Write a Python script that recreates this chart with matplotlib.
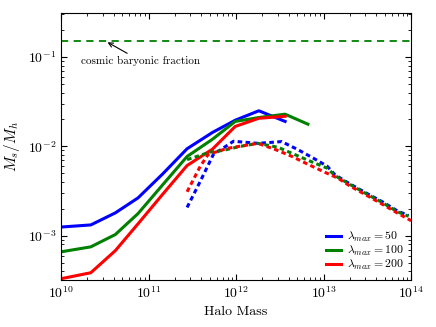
import numpy as np
import matplotlib
matplotlib.use("Agg")
import matplotlib.pyplot as plt

plt.rcParams['font.family'] = ['cmr10', 'DejaVu Serif']
plt.rcParams['mathtext.fontset'] = 'cm'
plt.rcParams['axes.formatter.use_mathtext'] = True
plt.rcParams['xtick.direction'] = 'in'
plt.rcParams['ytick.direction'] = 'in'
plt.rcParams['xtick.top'] = True
plt.rcParams['ytick.right'] = True
plt.rcParams['xtick.major.size'] = 4
plt.rcParams['ytick.major.size'] = 4
plt.rcParams['xtick.minor.size'] = 2
plt.rcParams['ytick.minor.size'] = 2

# ---- data (log10 halo mass, stellar-to-halo mass ratio) ----
solid_logm = [10.0, 10.34, 10.62, 10.88, 11.16, 11.44, 11.73, 11.99, 12.26, 12.56, 12.82]
solid_50 = [1.25e-3, 1.32e-3, 1.8e-3, 2.65e-3, 4.9e-3, 9.4e-3, 1.43e-2, 1.96e-2, 2.5e-2, 1.9e-2]
solid_100 = [6.6e-4, 7.5e-4, 1.03e-3, 1.77e-3, 3.7e-3, 7.7e-3, 1.2e-2, 1.9e-2, 2.1e-2, 2.29e-2, 1.77e-2]
solid_200 = [3.3e-4, 3.85e-4, 6.8e-4, 1.36e-3, 2.9e-3, 6.1e-3, 9.3e-3, 1.67e-2, 2.06e-2, 2.17e-2]

dash_logm_50 = [11.44, 11.59, 11.74, 11.97, 12.25, 12.52, 12.70, 12.87, 13.04, 13.13, 13.30, 13.50, 13.67, 13.84, 13.97]
dash_50 = [2.07e-3, 4.05e-3, 8.1e-3, 1.14e-2, 1.08e-2, 1.13e-2, 9.25e-3, 7.5e-3, 6.0e-3, 4.8e-3, 3.8e-3, 2.95e-3, 2.4e-3, 1.9e-3, 1.68e-3]
dash_logm_100 = [11.44, 11.55, 11.70, 11.85, 12.05, 12.25, 12.48, 12.67, 12.85, 13.04, 13.13, 13.30, 13.50, 13.67, 13.84, 13.97]
dash_100 = [7.1e-3, 7.7e-3, 8.6e-3, 9.0e-3, 1.0e-2, 1.08e-2, 9.75e-3, 8.1e-3, 6.8e-3, 5.7e-3, 4.7e-3, 3.75e-3, 2.9e-3, 2.35e-3, 1.86e-3, 1.65e-3]
dash_logm_200 = [11.44, 11.59, 11.68, 11.90, 12.25, 12.45, 12.64, 12.82, 13.02, 13.17, 13.30, 13.50, 13.67, 13.84, 14.0]
dash_200 = [3.1e-3, 5.96e-3, 8.1e-3, 9.5e-3, 1.08e-2, 9.2e-3, 7.7e-3, 6.3e-3, 5.1e-3, 4.37e-3, 3.6e-3, 2.8e-3, 2.25e-3, 1.8e-3, 1.47e-3]

baryon_fraction = 0.15
labels = [r'$\lambda_{max} = 50$', r'$\lambda_{max} = 100$', r'$\lambda_{max} = 200$']
colors = ['#0000ff', '#008000', '#ff0000']

fig = plt.figure(figsize=(4.36, 3.27), dpi=100)
ax = fig.add_axes([0.14, 0.144, 0.803, 0.816])

solids = [solid_50, solid_100, solid_200]
dashes_x = [dash_logm_50, dash_logm_100, dash_logm_200]
dashes_y = [dash_50, dash_100, dash_200]

for ys, c, lab in zip(solids, colors, labels):
    xs = 10 ** np.array(solid_logm[:len(ys)])
    ax.plot(xs, ys, color=c, lw=2.2, label=lab)
for xs, ys, c in zip(dashes_x, dashes_y, colors):
    ax.plot(10 ** np.array(xs), ys, color=c, lw=2.2, ls=(0, (1.5, 1.1)))

ax.axhline(baryon_fraction, color='#008000', lw=1.3, ls=(0, (4.0, 3.0)))
ax.annotate('cosmic baryonic fraction', xy=(3.4e10, 0.146), xytext=(8.2e10, 0.09),
            ha='center', va='center', fontsize=8,
            arrowprops=dict(arrowstyle='->', color='k', lw=0.8, shrinkA=0, shrinkB=0))

ax.set_xscale('log')
ax.set_yscale('log')
ax.set_xlim(1e10, 1e14)
ax.set_ylim(3.2e-4, 0.31)
ax.set_xlabel('Halo Mass', fontsize=10)
ax.set_ylabel(r'$M_s/M_h$', fontsize=11)
ax.tick_params(labelsize=10)

leg = ax.legend(loc='lower right', frameon=False, fontsize=8.5, handlelength=1.3,
                handletextpad=0.5, labelspacing=0.02, borderaxespad=0.25)

fig.savefig('out.png', dpi=100)
